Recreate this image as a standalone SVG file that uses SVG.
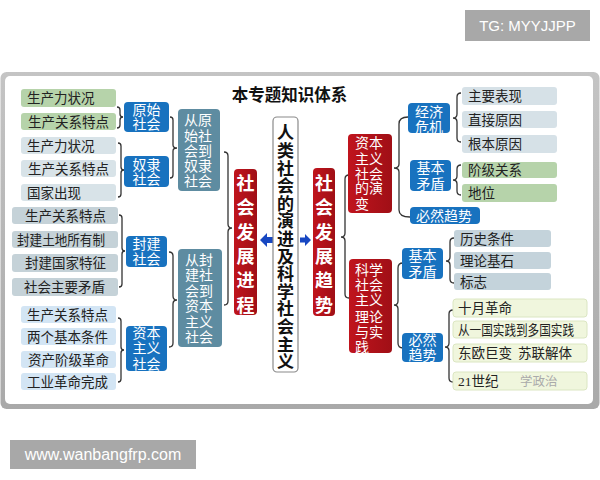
<svg xmlns="http://www.w3.org/2000/svg" width="600" height="480" viewBox="0 0 600 480">
<defs>
<linearGradient id="frameG" x1="0" y1="0" x2="0" y2="1">
<stop offset="0" stop-color="#c4c4c4"/><stop offset="1" stop-color="#a9a9a9"/>
</linearGradient>
<linearGradient id="redG" x1="0" y1="0" x2="1" y2="0">
<stop offset="0" stop-color="#c0141d"/><stop offset="1" stop-color="#a00f16"/>
</linearGradient>
</defs>
<style>
.cjk{font-family:"Liberation Serif","Noto Sans CJK SC",serif}
.sans{font-family:"Noto Sans CJK SC","Liberation Sans",sans-serif}
.lt{font-size:13.5px;fill:#222}
.wt{font-size:14px;fill:#fff;text-anchor:middle}
.ws{font-size:14px;fill:#fff}
.green{fill:#b6d3aa}
.lgray{fill:#d8e3e8}
.gray{fill:#c5d2d8}
.lblue{fill:#d3e5f4}
.rgray{fill:#d6e1e7}
.rgray2{fill:#c4d3db}
.yel{fill:#f0f6dd;stroke:#dbe6c2;stroke-width:1}
.blue{fill:#1872bf}
.steel{fill:#5e8ca1}
.red{fill:url(#redG)}
.br{fill:none;stroke:#333;stroke-width:1.3}
.vt{writing-mode:vertical-rl;text-orientation:upright}
.big{font-size:18px;font-weight:bold;fill:#fff;letter-spacing:6.4px}
.arr{fill:#1747c2}
</style>

<!-- watermarks -->
<rect x="465" y="10" width="125" height="31" fill="#a8a8a8"/>
<text x="527.5" y="31" font-size="15" fill="#fff" text-anchor="middle" font-family="Liberation Sans, sans-serif">TG: MYYJJPP</text>
<rect x="10" y="440" width="186" height="29" fill="#a8a8a8"/>
<text x="103" y="460" font-size="16" fill="#fff" text-anchor="middle" font-family="Liberation Sans, sans-serif">www.wanbangfrp.com</text>

<!-- frame -->
<rect x="0.5" y="72" width="599" height="337" rx="6" fill="url(#frameG)"/>
<rect x="5" y="76" width="588" height="328" rx="5" fill="#fff"/>

<text x="289.5" y="101" class="sans" font-size="16.5" font-weight="bold" fill="#111" text-anchor="middle">本专题知识体系</text>

<!-- connectors -->
<g id="connectors">
<path class="br" d="M117,107 Q120,107 120,110 L120,114 Q120,117 123,117 Q120,117 120,120 L120,125 Q120,128 117,128"/>
<path class="br" d="M118,143 Q121,143 121,146 L121,167 Q121,170 124,170 Q121,170 121,173 L121,194 Q121,197 118,197"/>
<path class="br" d="M170,117 Q173,117 173,120 L173,145 Q173,148 177,148 Q173,148 173,151 L173,175 Q173,178 170,178"/>
<path class="br" d="M224,152 Q228,152 228,156 L228,224 Q228,228 232,228 Q228,228 228,232 L228,301 Q228,305 224,305"/>
<path class="br" d="M119,215 Q122,215 122,218 L122,248 Q122,251 125,251 Q122,251 122,254 L122,284 Q122,287 119,287"/>
<path class="br" d="M118,318 Q121,318 121,321 L121,347 Q121,350 124,350 Q121,350 121,353 L121,379 Q121,382 118,382"/>
<path class="br" d="M169,252 Q173,252 173,256 L173,296 Q173,300 177,300 Q173,300 173,304 L173,343 Q173,347 169,347"/>
<path class="br" d="M349,175 Q345,175 345,179 L345,233 Q345,237 341,237 Q345,237 345,241 L345,294 Q345,298 349,298"/>
<path class="br" d="M408,117 Q399,117 399,124 L399,164 Q399,168 394,168 Q399,168 399,172 L399,210 Q399,217 410,217"/>
<path class="br" d="M461,93 Q457,93 457,97 L457,114 Q457,118 453,118 Q457,118 457,122 L457,138 Q457,142 461,142"/>
<path class="br" d="M461,165 Q457,165 457,169 L457,176 Q457,180 453,180 Q457,180 457,184 L457,191 Q457,195 461,195"/>
<path class="br" d="M403,263 Q398,263 398,268 L398,301 Q398,305 394,305 Q398,305 398,309 L398,343 Q398,348 403,348"/>
<path class="br" d="M454,238 Q450,238 450,242 L450,257 Q450,261 446,261 Q450,261 450,265 L450,279 Q450,283 454,283"/>
<path class="br" d="M453,310 Q449,310 449,314 L449,343 Q449,347 445,347 Q449,347 449,351 L449,378 Q449,382 453,382"/>
<polygon class="arr" points="260,240 267,233 267,237 273,237 273,243 267,243 267,247"/>
<polygon class="arr" points="311,240 305,234 305,237.5 300,237.5 300,242.5 305,242.5 305,246"/>
</g>

<!-- center -->
<g id="center">
<rect x="273" y="117" width="25" height="255" rx="4" fill="#fff" stroke="#8a8a8a" stroke-width="1.2"/>
<text class="sans vt" x="285.5" y="124.5" font-size="17" font-weight="bold" fill="#111" letter-spacing="0.6">人类社会的演进及科学社会主义</text>
</g>

<g id="n-jincheng">
<rect class="red" x="234" y="169" width="23" height="146" rx="4"/>
<text class="sans vt big" x="245.5" y="174">社会发展进程</text>
</g>
<g id="n-qushi">
<rect class="red" x="313" y="168" width="22" height="148" rx="4"/>
<text class="sans vt big" x="324" y="174">社会发展趋势</text>
</g>

<!-- left leaves -->
<g id="n-l1"><rect class="green" x="21" y="89" width="95" height="18" rx="3"/><text class="cjk lt" x="27" y="103">生产力状况</text></g>
<g id="n-l2"><rect class="green" x="21" y="113" width="95" height="17" rx="3"/><text class="cjk lt" x="28" y="126.5">生产关系特点</text></g>
<g id="n-l3"><rect class="lgray" x="21" y="137" width="95" height="17" rx="3"/><text class="cjk lt" x="27" y="150.5">生产力状况</text></g>
<g id="n-l4"><rect class="lgray" x="21" y="160" width="95" height="17" rx="3"/><text class="cjk lt" x="28" y="173.5">生产关系特点</text></g>
<g id="n-l5"><rect class="lgray" x="21" y="184" width="95" height="17" rx="3"/><text class="cjk lt" x="27" y="197.5">国家出现</text></g>
<g id="n-l6"><rect class="gray" x="12" y="207" width="106" height="17" rx="3"/><text class="cjk lt" x="25" y="220.5">生产关系特点</text></g>
<g id="n-l7"><rect class="gray" x="12" y="231" width="106" height="17" rx="3"/><text class="cjk lt" x="17" y="244.5" textLength="88" lengthAdjust="spacingAndGlyphs">封建土地所有制</text></g>
<g id="n-l8"><rect class="gray" x="12" y="254" width="106" height="18" rx="3"/><text class="cjk lt" x="25" y="268">封建国家特征</text></g>
<g id="n-l9"><rect class="gray" x="12" y="278" width="106" height="18" rx="3"/><text class="cjk lt" x="24" y="292">社会主要矛盾</text></g>
<g id="n-l10"><rect class="lblue" x="21" y="306" width="95" height="17" rx="3"/><text class="cjk lt" x="27" y="319.5">生产关系特点</text></g>
<g id="n-l11"><rect class="lblue" x="21" y="328" width="95" height="17" rx="3"/><text class="cjk lt" x="27" y="341.5">两个基本条件</text></g>
<g id="n-l12"><rect class="lblue" x="21" y="351" width="95" height="17" rx="3"/><text class="cjk lt" x="28" y="364.5">资产阶级革命</text></g>
<g id="n-l13"><rect class="lblue" x="21" y="373" width="95" height="17" rx="3"/><text class="cjk lt" x="27" y="386.5">工业革命完成</text></g>

<!-- left blue -->
<g id="n-yuanshi"><rect class="blue" x="124" y="102" width="45" height="30" rx="4"/><g class="cjk wt"><text x="146.5" y="115">原始</text><text x="146.5" y="129">社会</text></g></g>
<g id="n-nuli"><rect class="blue" x="124" y="156" width="45" height="31" rx="4"/><g class="cjk wt"><text x="146.5" y="170">奴隶</text><text x="146.5" y="184">社会</text></g></g>
<g id="n-fengjian"><rect class="blue" x="126" y="236" width="41" height="31" rx="4"/><g class="cjk wt"><text x="146.5" y="248.5">封建</text><text x="146.5" y="264">社会</text></g></g>
<g id="n-ziben"><rect class="blue" x="126" y="326" width="41" height="45" rx="4"/><g class="cjk wt"><text x="146.5" y="338">资本</text><text x="146.5" y="353">主义</text><text x="146.5" y="368.5">社会</text></g></g>

<!-- steel -->
<g id="n-s1"><rect class="steel" x="178" y="109" width="42" height="82" rx="4"/><g class="cjk ws"><text x="184" y="125">从原</text><text x="184" y="141">始社</text><text x="184" y="156">会到</text><text x="184" y="171">奴隶</text><text x="184" y="186">社会</text></g></g>
<g id="n-s2"><rect class="steel" x="178" y="249" width="44" height="98" rx="4"/><g class="cjk ws"><text x="185" y="265">从封</text><text x="185" y="280">建社</text><text x="185" y="296">会到</text><text x="185" y="311">资本</text><text x="185" y="327">主义</text><text x="185" y="342">社会</text></g></g>

<!-- right red -->
<g id="n-yanbian"><rect class="red" x="348" y="134" width="44" height="79" rx="4"/><g class="cjk ws"><text x="355" y="148">资本</text><text x="355" y="164">主义</text><text x="355" y="179">社会</text><text x="355" y="193">的演</text><text x="355" y="209">变</text></g></g>
<g id="n-kexue"><rect class="red" x="349" y="259" width="43" height="94" rx="4"/><g class="cjk ws"><text x="355" y="275">科学</text><text x="355" y="290">社会</text><text x="355" y="305">主义</text><text x="355" y="322">理论</text><text x="355" y="337">与实</text><text x="355" y="352">践</text></g></g>

<!-- right blue -->
<g id="n-jingji"><rect class="blue" x="408" y="103" width="42" height="30" rx="4"/><g class="cjk wt"><text x="429" y="117">经济</text><text x="429" y="132">危机</text></g></g>
<g id="n-maodun1"><rect class="blue" x="410" y="160" width="41" height="31" rx="4"/><g class="cjk wt"><text x="430.5" y="173">基本</text><text x="430.5" y="189">矛盾</text></g></g>
<g id="n-biran1"><rect class="blue" x="410" y="207" width="70" height="17" rx="4"/><text class="cjk wt" x="444" y="221">必然趋势</text></g>
<g id="n-maodun2"><rect class="blue" x="402" y="248" width="41" height="31" rx="4"/><g class="cjk wt"><text x="422.5" y="261">基本</text><text x="422.5" y="277">矛盾</text></g></g>
<g id="n-biran2"><rect class="blue" x="402" y="333" width="41" height="29" rx="4"/><g class="cjk wt"><text x="422.5" y="345">必然</text><text x="422.5" y="360">趋势</text></g></g>

<!-- right leaves -->
<g id="n-r1"><rect class="rgray" x="462" y="87" width="95" height="18" rx="3"/><text class="cjk lt" x="468" y="101">主要表现</text></g>
<g id="n-r2"><rect class="rgray" x="462" y="111" width="95" height="17" rx="3"/><text class="cjk lt" x="468" y="124.5">直接原因</text></g>
<g id="n-r3"><rect class="rgray" x="462" y="135" width="95" height="18" rx="3"/><text class="cjk lt" x="468" y="149">根本原因</text></g>
<g id="n-r4"><rect class="green" x="462" y="162" width="95" height="16" rx="3"/><text class="cjk lt" x="468" y="175">阶级关系</text></g>
<g id="n-r5"><rect class="green" x="462" y="184" width="95" height="18" rx="3"/><text class="cjk lt" x="468" y="198">地位</text></g>
<g id="n-r6"><rect class="rgray2" x="454" y="230" width="97" height="17" rx="3"/><text class="cjk lt" x="460" y="243.5">历史条件</text></g>
<g id="n-r7"><rect class="rgray2" x="454" y="252" width="97" height="17" rx="3"/><text class="cjk lt" x="460" y="265.5">理论基石</text></g>
<g id="n-r8"><rect class="rgray2" x="454" y="273" width="97" height="17" rx="3"/><text class="cjk lt" x="460" y="286.5">标志</text></g>
<g id="n-r9"><rect class="yel" x="453" y="299" width="134" height="18" rx="3"/><text class="cjk lt" x="458" y="313">十月革命</text></g>
<g id="n-r10"><rect class="yel" x="453" y="321" width="134" height="17" rx="3"/><text class="cjk lt" x="458" y="334.5" font-size="11.6" textLength="116" lengthAdjust="spacingAndGlyphs">从一国实践到多国实践</text></g>
<g id="n-r11"><rect class="yel" x="453" y="344" width="134" height="18" rx="3"/><text class="cjk lt" x="458" y="358" font-size="12.5">东欧巨变</text><text class="cjk lt" x="518" y="358" font-size="12.5">苏联解体</text></g>
<g id="n-r12"><rect class="yel" x="453" y="372" width="134" height="18" rx="3"/><text class="cjk lt" x="458" y="386" font-size="12.5">21世纪</text><text class="cjk" x="520" y="386" font-size="12.5" fill="#aaa">学政治</text></g>
</svg>
